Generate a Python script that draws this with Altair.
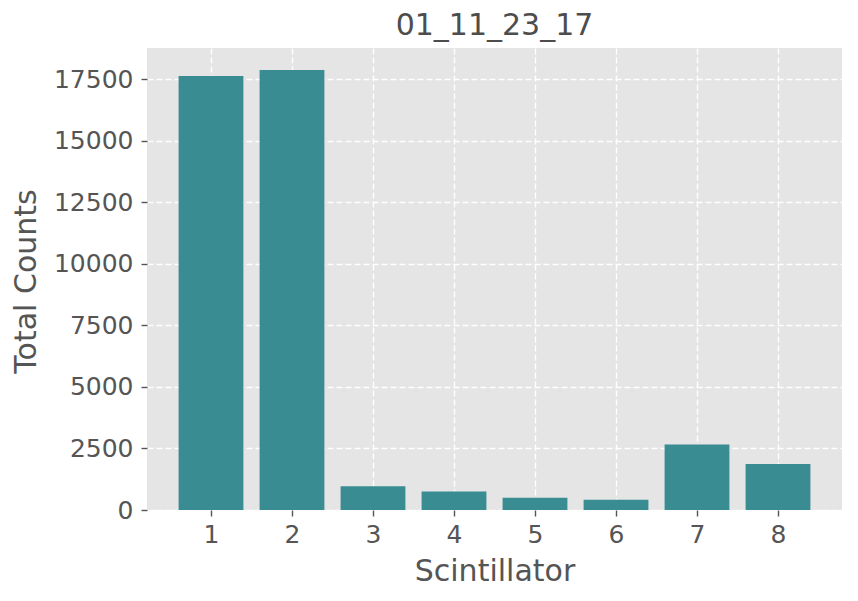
import altair as alt
import pandas as pd

scintillators = [1, 2, 3, 4, 5, 6, 7, 8]
counts = [17620, 17870, 960, 750, 500, 420, 2660, 1870]
y_ticks = [0, 2500, 5000, 7500, 10000, 12500, 15000, 17500]
chart_title = "01_11_23_17"

df = pd.DataFrame({"s": scintillators, "c": counts})
df["lo"] = df["s"] - 0.4
df["hi"] = df["s"] + 0.4

FONT = "DejaVu Sans"
GRAY = "#555555"

x_axis = alt.Axis(
    values=scintillators, title="Scintillator", domain=False,
    grid=True, gridColor="white", gridDash=[6, 3], gridWidth=1.4,
    tickSize=6, tickColor=GRAY, tickWidth=1.4,
    labelFont=FONT, labelFontSize=25, labelColor=GRAY, labelPadding=6,
    titleFont=FONT, titleFontSize=30, titleColor=GRAY, titleFontWeight="normal",
    titleX=347.5, titleY=70, titleBaseline="alphabetic", titleAlign="center",
    format="d",
)
y_axis = alt.Axis(
    values=y_ticks, title="Total Counts", domain=False,
    grid=True, gridColor="white", gridDash=[6, 3], gridWidth=1.4,
    tickSize=6, tickColor=GRAY, tickWidth=1.4,
    labelFont=FONT, labelFontSize=25, labelColor=GRAY, labelPadding=8,
    titleFont=FONT, titleFontSize=30, titleColor=GRAY, titleFontWeight="normal",
    titleX=-112, titleY=233, titleAngle=270, titleBaseline="alphabetic", titleAlign="center",
    format="d",
)

chart = alt.Chart(df).mark_bar(color="#398C91").encode(
    x=alt.X("lo:Q", scale=alt.Scale(domain=[0.21, 8.79], nice=False, zero=False, padding=0), axis=x_axis),
    x2="hi:Q",
    y=alt.Y("c:Q", scale=alt.Scale(domain=[0, 18760], nice=False, padding=0), axis=y_axis),
    y2=alt.datum(0),
).properties(
    width=695, height=462,
    title=alt.TitleParams(chart_title, font=FONT, fontSize=30, fontWeight="normal",
                          color="#4d4d4d", anchor="middle", baseline="bottom",
                          offset=5, dy=28, frame="group"),
    autosize="none",
    padding={"left": 139, "top": 40, "right": 8, "bottom": 83},
    background="white",
).configure_view(fill="#E5E5E5", stroke=None)

chart.save("out.html", embed_options={"renderer": "svg", "actions": False})
